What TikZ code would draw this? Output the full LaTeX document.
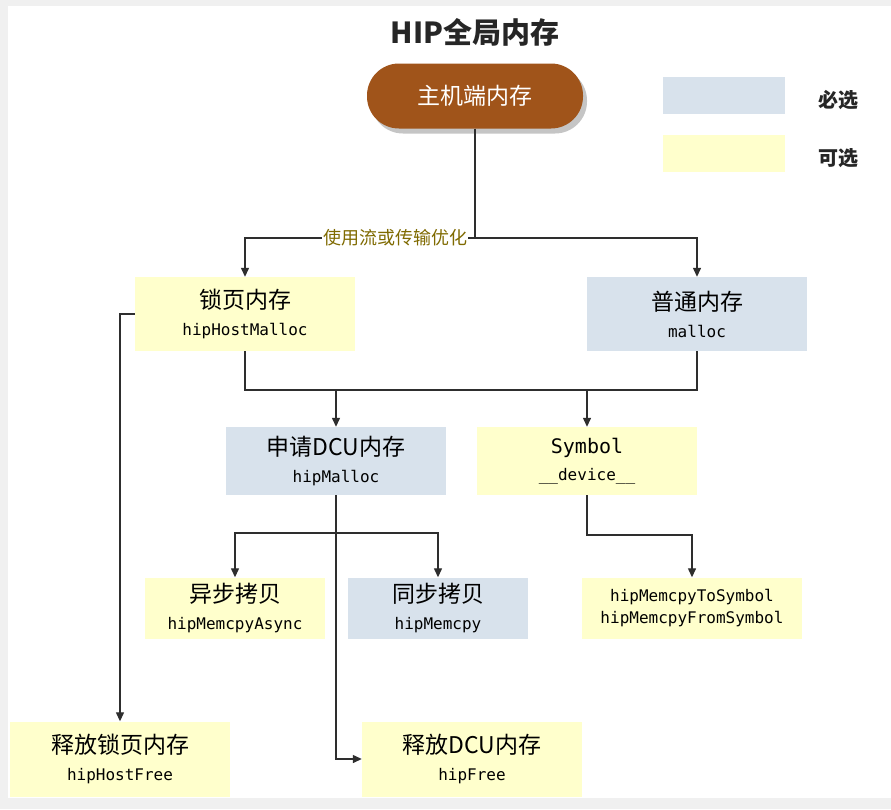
\documentclass[tikz,border=0pt]{standalone}
\usepackage{fontspec}
\usetikzlibrary{arrows.meta, shadows}
\setmainfont{Noto Sans CJK SC}
\newfontfamily\cjk{Noto Sans CJK SC}
\newfontfamily\codigo{DejaVu Sans Mono}
\definecolor{fondo}{HTML}{F0F0F0}
\definecolor{marron}{HTML}{A0541A}
\definecolor{azul}{HTML}{D8E2EC}
\definecolor{amarillo}{HTML}{FFFFCC}
\definecolor{trazo}{HTML}{2E2E2E}
\definecolor{oliva}{HTML}{7F6A00}
\newcommand{\dosl}[2]{{\cjk\fontsize{23}{26}\selectfont #1}\\[12pt]{\codigo\fontsize{16}{18}\selectfont #2}}

\begin{document}
\begin{tikzpicture}[x=1pt, y=-1pt,
			caja/.style={inner sep=0pt, minimum width=220pt, align=center},
			opcional/.style={caja, fill=amarillo},
			obligatorio/.style={caja, fill=azul},
			linea/.style={trazo, line width=1.3pt},
			flecha/.style={linea, -{Triangle[length=9pt, width=8pt]}}]
			% fondo y margen
			\fill[fondo] (0,0) rectangle (891,809);
			\fill[white] (8,6) rectangle (891,798);
			\useasboundingbox (0,0) rectangle (891,809);

			\node[font=\bfseries\fontsize{29}{32}\selectfont, text=black!85] (titulo) at (475,32) {HIP全局内存};
			\node[rounded corners=32pt, fill=marron, minimum width=216pt, minimum height=65pt,
			      drop shadow={opacity=0.45, shadow xshift=4pt, shadow yshift=-5pt},
			      text=white, font=\fontsize{23}{26}\selectfont] (host) at (475,96) {主机端内存};

			% leyenda
			\node[obligatorio, minimum width=122pt, minimum height=37pt] (leyazul) at (724,95) {};
			\node[opcional, minimum width=122pt, minimum height=37pt] (leyamar) at (724,153) {};
			\node[font=\bfseries\fontsize{20}{22}\selectfont, text=black!85] (oblig) at (838,100) {必选};
			\node[font=\bfseries\fontsize{20}{22}\selectfont, text=black!85] (opc) at (838,158) {可选};

			\node[opcional, minimum height=74pt] (bloq) at (245,314) {\dosl{锁页内存}{hipHostMalloc}};
			\node[obligatorio, minimum height=74pt] (normal) at (697,314) {\dosl{普通内存}{malloc}};
			\node[obligatorio, minimum height=68pt] (dcu) at (336,461) {\dosl{申请DCU内存}{hipMalloc}};
			\node[opcional, minimum height=68pt] (simb) at (587,461)
				{{\codigo\fontsize{20}{24}\selectfont Symbol}\\[10pt]{\codigo\fontsize{16}{18}\selectfont \_\_device\_\_}};
			\node[opcional, minimum width=180pt, minimum height=61pt] (asinc) at (235,608) {\dosl{异步拷贝}{hipMemcpyAsync}};
			\node[obligatorio, minimum width=180pt, minimum height=61pt] (sinc) at (438,608) {\dosl{同步拷贝}{hipMemcpy}};
			\node[opcional, minimum height=61pt, font=\codigo\fontsize{16}{22}\selectfont] (asimb) at (692,608)
				{hipMemcpyToSymbol\\hipMemcpyFromSymbol};
			\node[opcional, minimum height=75pt] (libbloq) at (120,759) {\dosl{释放锁页内存}{hipHostFree}};
			\node[opcional, minimum height=75pt] (libdcu) at (472,759) {\dosl{释放DCU内存}{hipFree}};

			% conexiones
			\coordinate (rama) at (475,238);
			\coordinate (union) at (475,390);
			\coordinate (copia) at (336,533);
			\coordinate (simbaj) at (587,535);
			\draw[linea] (host.south) -- (rama);
			\draw[flecha] (rama) -| (bloq.north);
			\draw[flecha] (rama) -| (normal.north);
			\node[fill=white, inner sep=1pt, text=oliva, font=\fontsize{18}{20}\selectfont] (optim) at (395,238) {使用流或传输优化};
			\draw[linea] (bloq.south) |- (union) -| (normal.south);
			\draw[flecha] (union -| dcu.north) -- (dcu.north);
			\draw[flecha] (union -| simb.north) -- (simb.north);
			\draw[linea] (dcu.south) -- (copia);
			\draw[flecha] (copia) -| (asinc.north);
			\draw[flecha] (copia) -| (sinc.north);
			\draw[flecha] (dcu.south) |- (libdcu.west);
			\draw[flecha] (simb.south) |- (simbaj) -| (asimb.north);
			\draw[flecha] (bloq.west) -| (libbloq.north);
		\end{tikzpicture}
\end{document}
